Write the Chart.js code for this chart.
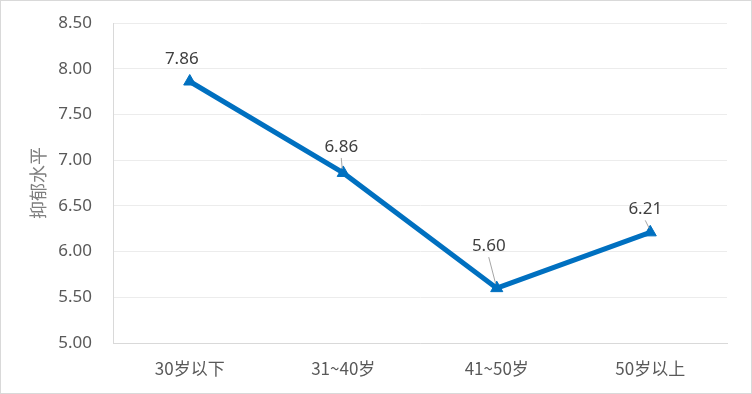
<!DOCTYPE html>
<html>
<head>
<meta charset="utf-8">
<script src="https://cdn.jsdelivr.net/npm/chart.js@4/dist/chart.umd.min.js"></script>
<style>
html,body{margin:0;padding:0;background:#fff;}
#wrap{width:752px;height:394px;position:relative;}
</style>
</head>
<body>
<div id="wrap"><canvas id="c" width="752" height="394"></canvas></div>
<script>
const categories = ['30岁以下', '31~40岁', '41~50岁', '50岁以上'];
const values = [7.86, 6.86, 5.60, 6.21];
const yTicks = [5.00, 5.50, 6.00, 6.50, 7.00, 7.50, 8.00, 8.50];
const yTitle = '抑郁水平';

const labelOffsets = [
  {dx: -8, dy: -22, leader: false},
  {dx: -2, dy: -26, leader: true},
  {dx: -8, dy: -42, leader: true},
  {dx: -5, dy: -23, leader: true}
];

const frame = {
  id: 'frame',
  beforeDraw(chart) {
    const ctx = chart.ctx;
    ctx.save();
    ctx.fillStyle = '#ffffff';
    ctx.fillRect(0, 0, chart.width, chart.height);
    ctx.strokeStyle = '#d9d9d9';
    ctx.lineWidth = 1;
    ctx.strokeRect(0.5, 0.5, chart.width - 1, chart.height - 1);
    ctx.restore();
  }
};

const dataLabels = {
  id: 'dataLabels',
  afterDatasetsDraw(chart) {
    const ctx = chart.ctx;
    const meta = chart.getDatasetMeta(0);
    ctx.save();
    ctx.font = '17px "Noto Sans", "Liberation Sans", sans-serif';
    ctx.textAlign = 'center';
    ctx.textBaseline = 'middle';
    meta.data.forEach((pt, i) => {
      const o = labelOffsets[i];
      const lx = pt.x + o.dx, ly = pt.y + o.dy;
      if (o.leader) {
        ctx.strokeStyle = '#a6a6a6';
        ctx.lineWidth = 1;
        ctx.beginPath();
        ctx.moveTo(lx, ly + 11);
        ctx.lineTo(pt.x - 1, pt.y - 4);
        ctx.stroke();
      }
      ctx.fillStyle = '#404040';
      ctx.fillText(values[i].toFixed(2), lx, ly);
    });
    ctx.restore();
  }
};

new Chart(document.getElementById('c'), {
  type: 'line',
  data: {
    labels: categories,
    datasets: [{
      data: values,
      borderColor: '#0070C0',
      backgroundColor: '#0070C0',
      borderWidth: 5,
      pointStyle: 'triangle',
      pointRadius: 7,
      pointBorderWidth: 1,
      pointBorderColor: '#0070C0',
      pointBackgroundColor: '#0070C0',
      tension: 0
    }]
  },
  options: {
    responsive: false,
    animation: false,
    layout: {padding: {left: 0, right: 25, top: 23, bottom: 0}},
    plugins: {legend: {display: false}, tooltip: {enabled: false}},
    scales: {
      x: {
        offset: true,
        grid: {display: false, drawTicks: false},
        border: {display: true, color: '#d9d9d9', width: 1},
        ticks: {color: '#595959', font: {size: 17, family: '"Noto Sans CJK SC", "Noto Sans", sans-serif'}, padding: 15, maxRotation: 0},
        afterFit(scale) { scale.height = 51; }
      },
      y: {
        min: yTicks[0],
        max: yTicks[yTicks.length - 1],
        afterBuildTicks(scale) { scale.ticks = yTicks.map(v => ({value: v})); },
        grid: {color: '#ececec', drawTicks: false},
        border: {display: true, color: '#d9d9d9', width: 1},
        ticks: {
          color: '#595959',
          font: {size: 17, family: '"Noto Sans", "Liberation Sans", sans-serif'},
          padding: 21,
          callback: v => Number(v).toFixed(2)
        },
        title: {
          display: true,
          text: yTitle,
          color: '#7f7f7f',
          font: {size: 18, family: '"Noto Sans CJK SC", sans-serif'},
          padding: {top: 27, bottom: 0}
        },
        afterFit(scale) { scale.width = 113; scale.paddingTop = 10; scale.paddingBottom = 10; }
      }
    }
  },
  plugins: [frame, dataLabels]
});
</script>
</body>
</html>
